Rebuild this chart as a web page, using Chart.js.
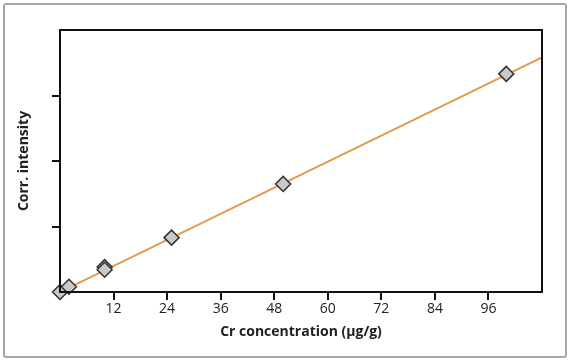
<!DOCTYPE html>
<html>
<head>
<meta charset="utf-8">
<script src="https://cdn.jsdelivr.net/npm/chart.js@4.4.1/dist/chart.umd.min.js"></script>
<style>
  html, body { margin: 0; padding: 0; background: #ffffff; }
  #wrap { position: relative; width: 570px; height: 360px; }
  #frame { position: absolute; left: 3px; top: 3px; width: 560px; height: 351px; border: 2px solid #a7a7a7; border-radius: 3px; box-sizing: content-box; }
  canvas { position: absolute; left: 0; top: 0; }
</style>
</head>
<body>
<div id="wrap">
  <div id="frame"></div>
  <canvas id="c" width="570" height="360"></canvas>
</div>
<script>
const concentrations = [0, 2, 10, 10, 25, 50, 100];
const intensities = [0, 0.08, 0.38, 0.34, 0.83, 1.65, 3.33];
const fitX = [0, 108];
const fitY = [0, 3.58];
const xTickLabels = ['12', '24', '36', '48', '60', '72', '84', '96'];
const xTitle = 'Cr concentration (µg/g)';
const yTitle = 'Corr. intensity';

const boxPlugin = {
  id: 'box',
  afterDatasetsDraw(chart) {
    const a = chart.chartArea, ctx = chart.ctx;
    ctx.save();
    ctx.strokeStyle = '#111';
    ctx.lineWidth = 2;
    ctx.strokeRect(a.left, a.top, a.right - a.left, a.bottom - a.top);
    ctx.restore();
  }
};

const FONT = "'Open Sans', 'Noto Sans', sans-serif";

new Chart(document.getElementById('c'), {
  type: 'scatter',
  data: {
    datasets: [
      {
        label: 'Standards',
        data: concentrations.map((x, i) => ({ x: x, y: intensities[i] })),
        pointStyle: 'rectRot',
        pointRadius: 7.5,
        pointBackgroundColor: '#c9c9c9',
        pointBorderColor: '#333333',
        pointBorderWidth: 1.5,
        showLine: false,
        clip: false,
        order: 0
      },
      {
        label: 'Fit',
        data: fitX.map((x, i) => ({ x: x, y: fitY[i] })),
        showLine: true,
        borderColor: '#e39a4c',
        borderWidth: 2,
        pointRadius: 0,
        fill: false,
        order: 1
      }
    ]
  },
  options: {
    responsive: false,
    animation: false,
    layout: { padding: { left: 16, right: 28, top: 30, bottom: 17 } },
    plugins: { legend: { display: false }, tooltip: { enabled: false } },
    scales: {
      x: {
        type: 'linear',
        min: 0, max: 108,
        afterFit: (scale) => { scale.height = 51; },
        ticks: {
          stepSize: 12,
          color: '#222',
          font: { family: FONT, size: 14 },
          padding: 1,
          callback: (v) => xTickLabels.includes(String(v)) ? String(v) : ''
        },
        grid: {
          drawOnChartArea: false,
          drawTicks: true,
          tickLength: 8,
          lineWidth: 2,
          color: (ctx) => (ctx.tick && (ctx.tick.value === 0 || ctx.tick.value === 108)) ? 'rgba(0,0,0,0)' : '#111'
        },
        border: { display: true, color: '#111', width: 2 },
        title: {
          display: true,
          text: xTitle,
          color: '#222',
          font: { family: FONT, size: 14, weight: 'bold' },
          padding: { top: 2, bottom: 3 }
        }
      },
      y: {
        type: 'linear',
        min: 0, max: 4,
        afterFit: (scale) => { scale.width = 44; },
        ticks: {
          stepSize: 1,
          color: '#222',
          padding: 8,
          callback: () => ''
        },
        grid: {
          drawOnChartArea: false,
          drawTicks: true,
          tickLength: 8,
          lineWidth: 2,
          color: (ctx) => (ctx.tick && (ctx.tick.value === 0 || ctx.tick.value === 4)) ? 'rgba(0,0,0,0)' : '#111'
        },
        border: { display: true, color: '#111', width: 2 },
        title: {
          display: true,
          text: yTitle,
          color: '#222',
          font: { family: FONT, size: 14, weight: 'bold' },
          padding: { top: 0, bottom: 0 }
        }
      }
    }
  },
  plugins: [boxPlugin]
});
</script>
</body>
</html>
